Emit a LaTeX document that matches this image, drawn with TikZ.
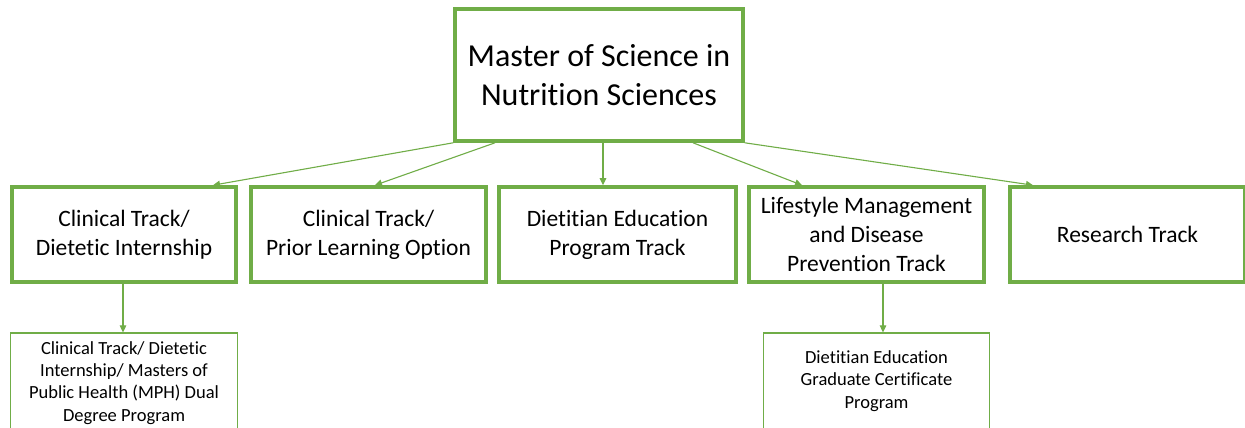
\documentclass[tikz,border=0pt]{standalone}
\usepackage{fontspec}
\setmainfont[Ligatures={NoCommon}]{Carlito}
\usetikzlibrary{arrows.meta}
\definecolor{grn}{HTML}{70AD47}
\begin{document}
\begin{tikzpicture}[x=1pt,y=-1pt,
  thickbox/.style={draw=grn,line width=3.6pt,rectangle,inner sep=0pt,align=center,text=black,minimum height=95pt},
  thinbox/.style={draw=grn,line width=1.2pt,rectangle,inner sep=0pt,align=center,text=black,font={\fontsize{18.5}{22.2}\selectfont}},
  midtxt/.style={font={\fontsize{23.5}{29}\selectfont}},
  conn/.style={draw=grn,line width=1.1pt,-{Triangle[length=7pt,width=6.5pt]}}]
\useasboundingbox (0,0) rectangle (1245,428);
\clip (0,0) rectangle (1245,428);
\fill[white] (0,0) rectangle (1245,428);

\node[thickbox,minimum width=288pt,minimum height=132pt,font={\fontsize{32}{39}\selectfont}] (top) at (599,75) {Master of Science in\\Nutrition Sciences};

\node[thickbox,midtxt,minimum width=224pt] (b1) at (124,234.5) {Clinical Track/\\Dietetic Internship};
\node[thickbox,midtxt,minimum width=235pt] (b2) at (368.5,234.5) {Clinical Track/\\Prior Learning Option};
\node[thickbox,midtxt,minimum width=237pt] (b3) at (617.5,234.5) {Dietitian Education\\Program Track};
\node[thickbox,midtxt,minimum width=235pt] (b4) at (866.5,234.5) {Lifestyle Management\\and Disease\\Prevention Track};
\node[thickbox,midtxt,minimum width=235pt] (b5) at (1127.5,234.5) {Research Track};

\node[thinbox,minimum width=227pt,minimum height=100pt] (b6) at (124,383) {Clinical Track/ Dietetic\\Internship/ Masters of\\Public Health (MPH) Dual\\Degree Program};
\node[thinbox,minimum width=226pt,minimum height=96pt] (b7) at (876.5,381) {Dietitian Education\\Graduate Certificate\\Program};

\draw[conn] (top.south west) -- ([xshift=89pt]b1.north);
\draw[conn] ([xshift=-104pt]top.south) -- ([xshift=6.5pt]b2.north);
\draw[conn] ([xshift=4pt]top.south) -- ([xshift=-14.5pt]b3.north);
\draw[conn] ([xshift=94pt]top.south) -- ([xshift=-64.5pt]b4.north);
\draw[conn] (top.south east) -- ([xshift=-94.5pt]b5.north);

\draw[conn] ([xshift=-1pt]b1.south) -- ([xshift=-1pt]b6.north);
\draw[conn] ([xshift=16.5pt]b4.south) -- ([xshift=6.5pt]b7.north);
\end{tikzpicture}
\end{document}
